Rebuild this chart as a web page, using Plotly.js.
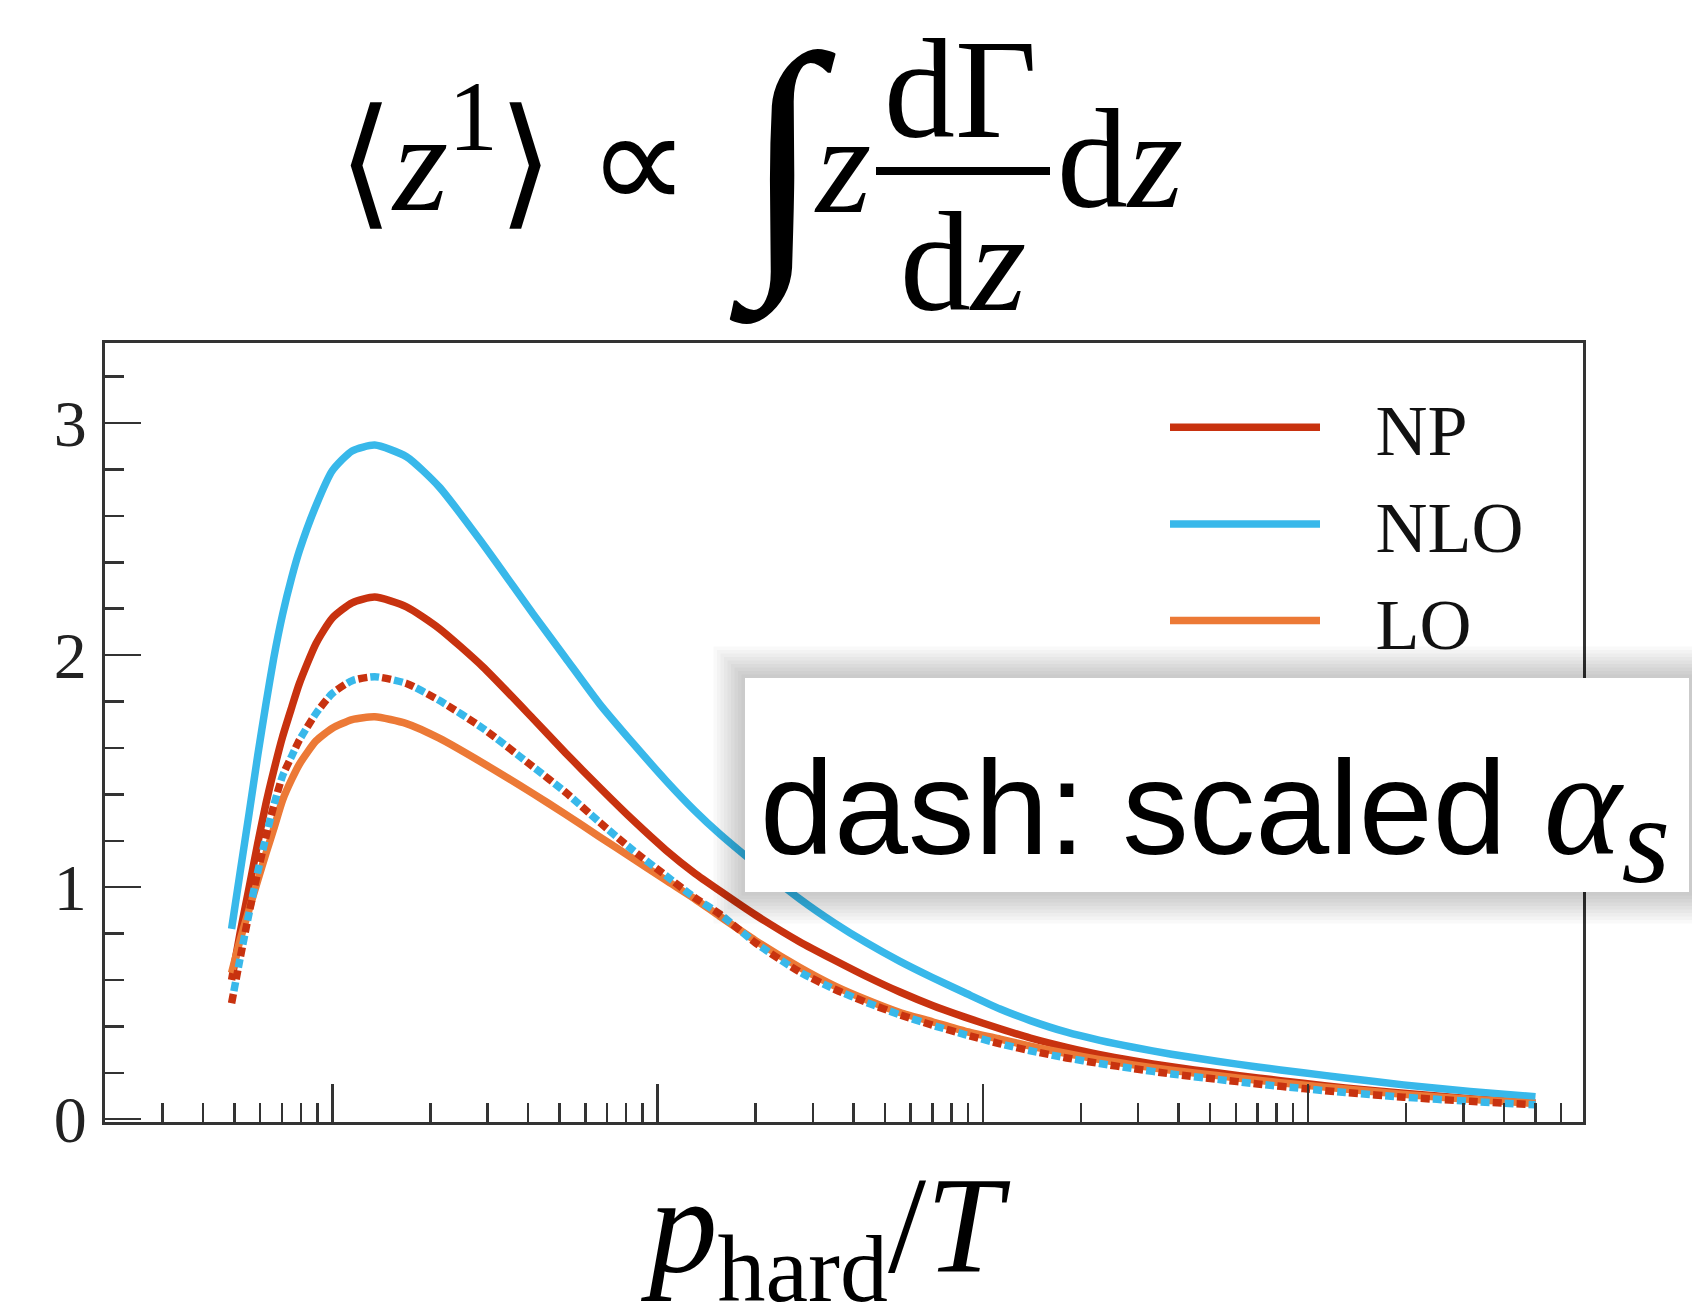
<!DOCTYPE html>
<html>
<head>
<meta charset="utf-8">
<script src="https://cdn.plot.ly/plotly-3.0.1.min.js"></script>
<style>
  html, body { margin: 0; padding: 0; background: #ffffff; }
  #chart { width: 1692px; height: 1311px; }
</style>
</head>
<body>
<div id="chart"></div>
<script>
// p_hard / T values (log axis)
const pOverT = [0.49, 0.52, 0.555, 0.59, 0.625, 0.66, 0.703, 0.75, 0.792, 0.891, 1.0, 1.15, 1.35, 1.69, 2.13, 2.9, 4.13, 5.2, 6.63, 8.4, 10.6, 13, 15.5, 20, 27.3, 35, 43.9, 55.6, 70, 88, 113, 140, 181, 229, 290, 380, 524, 700, 966, 1300, 1965, 3150, 5000];

// <z^1> curves
const npVals  = [0.60, 0.80, 1.00, 1.19, 1.36, 1.50, 1.648, 1.775, 1.878, 2.05, 2.16, 2.225, 2.25, 2.208, 2.115, 1.95, 1.728, 1.58, 1.43, 1.289, 1.16, 1.06, 0.985, 0.88, 0.765, 0.685, 0.615, 0.548, 0.49, 0.44, 0.39, 0.35, 0.31, 0.278, 0.252, 0.226, 0.20, 0.178, 0.155, 0.135, 0.112, 0.088, 0.07];
const nloVals = [0.82, 1.06, 1.32, 1.57, 1.79, 1.985, 2.175, 2.335, 2.45, 2.645, 2.795, 2.88, 2.905, 2.855, 2.725, 2.48, 2.18, 1.99, 1.79, 1.62, 1.46, 1.33, 1.23, 1.10, 0.95, 0.845, 0.76, 0.68, 0.61, 0.545, 0.475, 0.425, 0.375, 0.34, 0.31, 0.28, 0.25, 0.225, 0.20, 0.178, 0.148, 0.12, 0.097];
const loVals  = [0.63, 0.77, 0.905, 1.03, 1.145, 1.25, 1.375, 1.465, 1.53, 1.63, 1.685, 1.722, 1.734, 1.705, 1.642, 1.535, 1.404, 1.315, 1.217, 1.123, 1.03, 0.95, 0.875, 0.77, 0.655, 0.575, 0.515, 0.46, 0.42, 0.38, 0.345, 0.315, 0.283, 0.257, 0.234, 0.211, 0.188, 0.168, 0.147, 0.13, 0.107, 0.086, 0.068];
// dashed: scaled alpha_s
const npScaled  = [0.50, 0.69, 0.89, 1.067, 1.217, 1.35, 1.48, 1.565, 1.634, 1.749, 1.835, 1.89, 1.907, 1.878, 1.805, 1.685, 1.52, 1.41, 1.28, 1.159, 1.05, 0.955, 0.885, 0.76, 0.635, 0.56, 0.503, 0.45, 0.405, 0.365, 0.325, 0.295, 0.264, 0.24, 0.218, 0.195, 0.172, 0.152, 0.132, 0.115, 0.095, 0.077, 0.062];
const nloScaled = [0.50, 0.69, 0.89, 1.067, 1.217, 1.35, 1.48, 1.565, 1.634, 1.749, 1.835, 1.89, 1.907, 1.878, 1.805, 1.685, 1.52, 1.41, 1.28, 1.159, 1.05, 0.955, 0.885, 0.76, 0.635, 0.56, 0.503, 0.45, 0.405, 0.365, 0.325, 0.295, 0.264, 0.24, 0.218, 0.195, 0.172, 0.152, 0.132, 0.115, 0.095, 0.077, 0.062];

const seriesNames = ['NP', 'NLO', 'LO'];
const yTickVals = [0, 1, 2, 3];
const yTickText = ['0', '1', '2', '3'];

const C_NP = '#C8320F', C_NLO = '#38B8EA', C_LO = '#EC7936';

// plot-area pixel geometry helpers (for paper-referenced decorations)
const L = 105, R = 1583, T = 343, B = 1122;
const px = X => (X - L) / (R - L);
const py = Y => (B - Y) / (B - T);

const LW = 7.5;
const lineStyle = (c, extra) => Object.assign({ color: c, width: LW, shape: 'spline', smoothing: 0.6 }, extra || {});
const legendPad = '\u2002\u2009';

const traces = [
  { x: pOverT, y: npVals,  name: legendPad + seriesNames[0], mode: 'lines', line: lineStyle(C_NP) },
  { x: pOverT, y: nloVals, name: legendPad + seriesNames[1], mode: 'lines', line: lineStyle(C_NLO) },
  { x: pOverT, y: loVals,  name: legendPad + seriesNames[2], mode: 'lines', line: lineStyle(C_LO) },
  { x: pOverT, y: npScaled,  name: 'NP (scaled αs)',  showlegend: false, mode: 'lines', line: lineStyle(C_NP,  { dash: '9px,15px' }) },
  { x: pOverT, y: nloScaled, name: 'NLO (scaled αs)', showlegend: false, mode: 'lines', line: lineStyle(C_NLO, { dash: '0px,12px,9px,3px' }) }
];

// shadow + white box behind the "dash" note
const shapes = [];
const bx0 = 745, bx1 = 1689, by0 = 678, by1 = 892;
for (let k = 9; k >= 1; k--) {
  const d = k * 3.5;
  shapes.push({ type: 'rect', xref: 'paper', yref: 'paper', layer: 'above',
    x0: px(bx0 - d), x1: px(bx1 + d), y0: py(by1 + d), y1: py(by0 - d),
    line: { width: 0 }, fillcolor: 'rgba(0,0,0,0.022)' });
}
shapes.push({ type: 'rect', xref: 'paper', yref: 'paper', layer: 'above',
  x0: px(bx0), x1: px(bx1), y0: py(by1), y1: py(by0),
  line: { width: 0 }, fillcolor: '#ffffff' });
// fraction bar of the title formula
shapes.push({ type: 'line', xref: 'paper', yref: 'paper', layer: 'above',
  x0: px(876), x1: px(1050), y0: py(171), y1: py(171), line: { color: '#000', width: 8 } });

const serif = 'Liberation Serif, Times New Roman, serif';
const sans = 'Liberation Sans, Arial, Helvetica, sans-serif';
const F = 142;

const annotations = [
  { text: '⟨<i>z</i><sup>1</sup>⟩ ∝', xref: 'paper', yref: 'paper', x: px(336), y: py(243), xanchor: 'left', yanchor: 'bottom', showarrow: false, font: { family: serif, size: F, color: '#000' } },
  { text: '∫', xref: 'paper', yref: 'paper', x: px(781), y: py(163), xanchor: 'center', yanchor: 'middle', showarrow: false, font: { family: serif, size: 280, color: '#000' } },
  { text: '<i>z</i>', xref: 'paper', yref: 'paper', x: px(812), y: py(245), xanchor: 'left', yanchor: 'bottom', showarrow: false, font: { family: serif, size: F, color: '#000' } },
  { text: 'dΓ', xref: 'paper', yref: 'paper', x: px(960), y: py(170), xanchor: 'center', yanchor: 'bottom', showarrow: false, font: { family: serif, size: F, color: '#000' } },
  { text: 'd<i>z</i>', xref: 'paper', yref: 'paper', x: px(963), y: py(343), xanchor: 'center', yanchor: 'bottom', showarrow: false, font: { family: serif, size: F, color: '#000' } },
  { text: 'd<i>z</i>', xref: 'paper', yref: 'paper', x: px(1055), y: py(240), xanchor: 'left', yanchor: 'bottom', showarrow: false, font: { family: serif, size: F, color: '#000' } },
  { text: 'dash: scaled <span style="font-family:Liberation Serif;font-size:148px"><i>α</i></span><sub><span style="font-family:Liberation Serif;font-size:125px"><i>s</i></span></sub>',
    xref: 'paper', yref: 'paper', x: px(758), y: py(720), xanchor: 'left', yanchor: 'top', showarrow: false, font: { family: sans, size: 133, color: '#000' } },
  // x-axis title
  { text: '<i>p</i><sub>hard</sub>/<i>T</i>', xref: 'paper', yref: 'paper', x: px(825), y: py(1148), xanchor: 'center', yanchor: 'top', showarrow: false, font: { family: serif, size: 137, color: '#000' } }
];

const layout = {
  width: 1692, height: 1311,
  margin: { l: L, r: 1692 - R, t: T, b: 1311 - B, pad: 0 },
  paper_bgcolor: '#ffffff', plot_bgcolor: '#ffffff',
  showlegend: true,
  legend: { x: px(1165), y: py(374), xanchor: 'left', yanchor: 'top', bgcolor: 'rgba(0,0,0,0)', borderwidth: 0,
            itemwidth: 150, font: { family: serif, size: 72, color: '#111' } },
  xaxis: {
    type: 'log', range: [Math.log10(0.2), Math.log10(7000)],
    showgrid: false, zeroline: false, showticklabels: false,
    showline: true, linecolor: '#333', linewidth: 3, mirror: true,
    ticks: 'inside', ticklen: 38, tickwidth: 2.5, tickcolor: '#333', dtick: 1,
    minor: { ticks: 'inside', ticklen: 19, tickwidth: 2.5, tickcolor: '#333', dtick: 'D1', showgrid: false }
  },
  yaxis: {
    range: [-0.012, 3.345],
    showgrid: false, zeroline: false,
    showline: true, linecolor: '#333', linewidth: 3, mirror: true,
    ticks: 'inside', ticklen: 36, tickwidth: 2.5, tickcolor: '#333',
    tickmode: 'array', tickvals: yTickVals, ticktext: yTickText,
    ticklabelstandoff: 2,
    tickfont: { family: serif, size: 66, color: '#222' },
    minor: { ticks: 'inside', ticklen: 19, tickwidth: 2.5, tickcolor: '#333', dtick: 0.2, tick0: 0, showgrid: false }
  },
  shapes: shapes,
  annotations: annotations
};

Plotly.newPlot('chart', traces, layout, { staticPlot: true, displayModeBar: false });
</script>
</body>
</html>
